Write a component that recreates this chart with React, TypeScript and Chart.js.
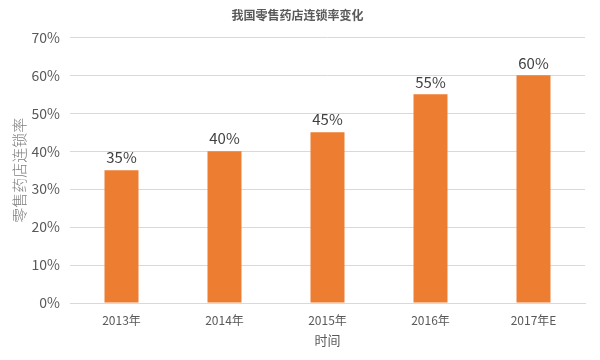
import React, { useEffect, useRef } from "react";
import { Chart, registerables } from "chart.js";

Chart.register(...registerables);

const title = "我国零售药店连锁率变化";
const categories = ["2013年", "2014年", "2015年", "2016年", "2017年E"];
const chainRate = [35, 40, 45, 55, 60];
const yTicks = [0, 10, 20, 30, 40, 50, 60, 70];
const xAxisTitle = "时间";
const yAxisTitle = "零售药店连锁率";

const FONT = "'Noto Sans CJK SC', 'Noto Sans', sans-serif";

const dataLabels = {
  id: "dataLabels",
  afterDatasetsDraw(chart: any) {
    const ctx = chart.ctx;
    const meta = chart.getDatasetMeta(0);
    ctx.save();
    ctx.font = `15px ${FONT}`;
    ctx.fillStyle = "#404040";
    ctx.textAlign = "center";
    ctx.textBaseline = "bottom";
    meta.data.forEach((bar: any, i: number) => {
      ctx.fillText(chainRate[i] + "%", bar.x, bar.y - 5);
    });
    ctx.restore();
  },
};

export default function App() {
  const ref = useRef<HTMLCanvasElement>(null);
  useEffect(() => {
    const chart = new Chart(ref.current!, {
      type: "bar",
      data: {
        labels: categories,
        datasets: [
          {
            data: chainRate,
            backgroundColor: "#ED7D31",
            barPercentage: 0.33,
            categoryPercentage: 1,
          },
        ],
      },
      options: {
        animation: false,
        responsive: false,
        layout: { padding: { left: 10, right: 15, top: 8, bottom: 6 } },
        plugins: {
          legend: { display: false },
          tooltip: { enabled: false },
          title: {
            display: true,
            text: title,
            color: "#595959",
            font: { family: FONT, size: 12, weight: "bold" },
            padding: { top: 0, bottom: 15 },
          },
        },
        scales: {
          x: {
            grid: { display: false, drawTicks: false },
            border: { color: "#D9D9D9" },
            ticks: { color: "#595959", font: { family: FONT, size: 12 }, padding: 10 },
            title: {
              display: true,
              text: xAxisTitle,
              color: "#595959",
              font: { family: FONT, size: 13 },
              padding: { top: -5, bottom: 6 },
            },
          },
          y: {
            min: 0,
            max: 70,
            afterBuildTicks: (s: any) => {
              s.ticks = yTicks.map((v) => ({ value: v }));
            },
            afterFit: (s: any) => {
              s.width = 60;
            },
            grid: { color: "#D9D9D9", drawTicks: false },
            border: { display: false },
            ticks: {
              color: "#595959",
              font: { family: FONT, size: 14 },
              padding: 10,
              callback: (v: any) => v + "%",
            },
            title: {
              display: true,
              text: yAxisTitle,
              color: "#808080",
              font: { family: FONT, size: 15, weight: "300" },
              padding: { top: 0, bottom: 0 },
            },
          },
        },
      },
      plugins: [dataLabels],
    });
    return () => chart.destroy();
  }, []);
  return (
    <div style={{ position: "absolute", left: 0, top: 0, width: 600, height: 360, background: "#fff" }}>
      <canvas ref={ref} width={600} height={360} />
    </div>
  );
}
